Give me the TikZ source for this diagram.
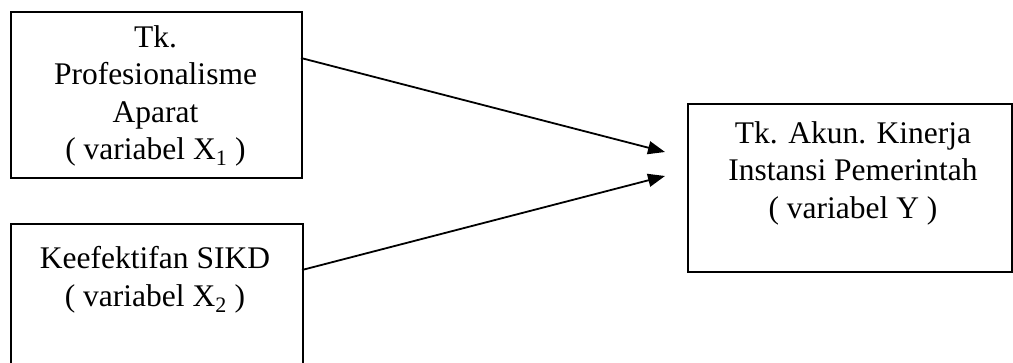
\documentclass[tikz,border=0pt]{standalone}
\usepackage{fontspec}
\setmainfont{Liberation Serif}
\usetikzlibrary{arrows.meta}
\begin{document}
\begin{tikzpicture}[x=1pt,y=1pt,
  varbox/.style={draw=black, line width=1.8pt, rectangle, inner sep=0pt},
  boxtext/.style={align=center, font=\fontsize{31.5}{37.5}\selectfont, inner sep=0pt},
  link/.style={line width=1.8pt, -{Triangle[length=17pt,width=13pt]}}]
\clip (0,0) rectangle (1013,362);
\fill[white] (0,0) rectangle (1013,362);

% independent variable X1
\node[varbox, anchor=north west, minimum width=291pt, minimum height=166pt] (x1) at (10,351) {};
\node[boxtext] (x1t) at (155.5,266) {Tk.\\Profesionalisme\\Aparat\\( variabel X\textsubscript{1} )};

% independent variable X2 (box runs on below the lower edge)
\node[varbox, anchor=north west, minimum width=292pt, minimum height=160pt] (x2) at (10,139) {};
\node[boxtext] (x2t) at (155,82) {Keefektifan SIKD\\( variabel X\textsubscript{2} )};

% dependent variable Y
\node[varbox, anchor=north west, minimum width=324pt, minimum height=168pt] (y) at (687,259) {};
\node[boxtext] (yt) at (853,189) {Tk. Akun. Kinerja\\Instansi Pemerintah\\( variabel Y )};

% arrow start and end points
\coordinate (s1) at (301,304);
\coordinate (s2) at (302,92);
\coordinate (e1) at (665,210);
\coordinate (e2) at (665,186);

\draw[link] (s1) -- (e1);
\draw[link] (s2) -- (e2);
\end{tikzpicture}
\end{document}
